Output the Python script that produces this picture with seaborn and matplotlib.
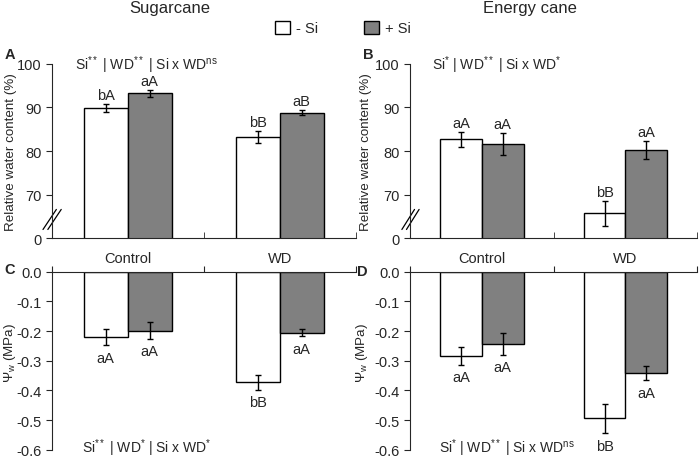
import numpy as np
import pandas as pd
import seaborn as sns
import matplotlib.pyplot as plt
from matplotlib.patches import Patch

# ---------------- data ----------------
groups = ["Control", "WD"]
treatments = ["- Si", "+ Si"]

# each row: one group (Control, WD); columns: - Si, + Si
rwc_sugar = [[89.8, 93.2], [83.2, 88.8]]
rwc_sugar_err = [[0.9, 0.85], [1.35, 0.6]]
rwc_sugar_lbl = [["bA", "aA"], ["bB", "aB"]]

rwc_energy = [[82.7, 81.6], [65.7, 80.2]]
rwc_energy_err = [[1.7, 2.6], [2.8, 2.0]]
rwc_energy_lbl = [["aA", "aA"], ["bB", "aA"]]

psi_sugar = [[-0.221, -0.198], [-0.372, -0.205]]
psi_sugar_err = [[0.027, 0.028], [0.025, 0.013]]
psi_sugar_lbl = [["aA", "aA"], ["bB", "aA"]]

psi_energy = [[-0.283, -0.242], [-0.494, -0.342]]
psi_energy_err = [[0.03, 0.037], [0.05, 0.023]]
psi_energy_lbl = [["aA", "aA"], ["bB", "aA"]]

rwc_ticks = [60, 70, 80, 90, 100]
rwc_tick_labels = ["0", "70", "80", "90", "100"]
psi_ticks = [-0.6, -0.5, -0.4, -0.3, -0.2, -0.1, 0.0]
psi_tick_labels = ["-0.6", "-0.5", "-0.4", "-0.3", "-0.2", "-0.1", "0.0"]

stats_text = {
    "A": r"Si$^{**}$ | WD$^{**}$ | Si x WD$^{\mathrm{ns}}$",
    "B": r"Si$^{*}$ | WD$^{**}$ | Si x WD$^{*}$",
    "C": r"Si$^{**}$ | WD$^{*}$ | Si x WD$^{*}$",
    "D": r"Si$^{*}$ | WD$^{**}$ | Si x WD$^{\mathrm{ns}}$",
}

palette = {"- Si": "white", "+ Si": "#808080"}

sns.set_style("ticks")
plt.rcParams["font.family"] = ["Liberation Sans", "DejaVu Sans"]
plt.rcParams["mathtext.fontset"] = "custom"
plt.rcParams["mathtext.rm"] = "Liberation Sans"
plt.rcParams["mathtext.it"] = "Liberation Sans"
plt.rcParams["axes.unicode_minus"] = False

FS = 10.5


def to_frame(values):
    rows = []
    for gi, g in enumerate(groups):
        for ti, t in enumerate(treatments):
            rows.append({"group": g, "treat": t, "value": values[gi][ti]})
    return pd.DataFrame(rows)


def draw_bars(ax, values, errs, labels, above):
    df = to_frame(values)
    sns.barplot(data=df, x="group", y="value", hue="treat", order=groups,
                hue_order=treatments, palette=palette, edgecolor="black",
                linewidth=1, width=0.58, errorbar=None, legend=False, ax=ax)
    bar_conts = list(ax.containers)
    for ti, cont in enumerate(bar_conts):
        for gi, bar in enumerate(cont):
            xc = bar.get_x() + bar.get_width() / 2
            v, e = values[gi][ti], errs[gi][ti]
            ax.errorbar(xc, v, yerr=e, color="black", lw=1, capsize=2.5, capthick=1)
            if above:
                ax.annotate(labels[gi][ti], (xc, v + e), xytext=(0, 1.5),
                            textcoords="offset points", ha="center", va="bottom", fontsize=FS)
            else:
                ax.annotate(labels[gi][ti], (xc, v - e), xytext=(0, -4),
                            textcoords="offset points", ha="center", va="top", fontsize=FS)
    ax.set_xlim(-0.5, 1.5)
    ax.set_xlabel("")


def style_top(ax, stats, label_x):
    ax.set_ylim(60, 100)
    ax.set_yticks(rwc_ticks)
    ax.set_yticklabels(rwc_tick_labels)
    ax.set_ylabel("Relative water content (%)", fontsize=9.6)
    ax.yaxis.set_label_coords(label_x, 0.5)
    sns.despine(ax=ax)
    ax.set_xticks([0, 1])
    ax.set_xticklabels(groups, fontsize=FS)
    ax.tick_params(axis="x", length=0, pad=9)
    ax.set_xticks([-0.5, 0.5, 1.5], minor=True)
    ax.tick_params(axis="x", which="minor", direction="in", length=4)
    ax.tick_params(axis="y", labelsize=FS, length=4)
    # axis break marks
    tr = ax.get_yaxis_transform()
    for dx in (-0.007, 0.009):
        ax.plot([-0.022 + dx, 0.022 + dx], [62.0, 66.6], color="black", lw=0.9,
                transform=tr, clip_on=False)
    ax.text(0.075, 1.0, stats, transform=ax.transAxes, fontsize=10, va="center")


def style_bottom(ax, stats, label_x):
    ax.set_ylim(-0.6, 0)
    ax.set_yticks(psi_ticks)
    ax.set_yticklabels(psi_tick_labels)
    ax.set_ylabel(r"$\Psi_{\mathrm{w}}$ (MPa)", fontsize=9.6)
    ax.yaxis.set_label_coords(label_x, 0.55)
    for s in ("right", "bottom"):
        ax.spines[s].set_visible(False)
    ax.xaxis.tick_top()
    ax.set_xticks([-0.5, 0.5, 1.5])
    ax.set_xticklabels([])
    ax.tick_params(axis="x", direction="out", length=4)
    ax.tick_params(axis="y", labelsize=FS, length=4)
    ax.text(0.1, 0.015, stats, transform=ax.transAxes, fontsize=10, va="center")


fig = plt.figure(figsize=(7, 4.6), dpi=100)
axA = fig.add_axes([0.074, 0.480, 0.434, 0.379])
axB = fig.add_axes([0.586, 0.480, 0.410, 0.379])
axC = fig.add_axes([0.074, 0.020, 0.434, 0.387])
axD = fig.add_axes([0.586, 0.020, 0.410, 0.387])

draw_bars(axA, rwc_sugar, rwc_sugar_err, rwc_sugar_lbl, True)
draw_bars(axB, rwc_energy, rwc_energy_err, rwc_energy_lbl, True)
draw_bars(axC, psi_sugar, psi_sugar_err, psi_sugar_lbl, False)
draw_bars(axD, psi_energy, psi_energy_err, psi_energy_lbl, False)

style_top(axA, stats_text["A"], -0.115)
style_top(axB, stats_text["B"], -0.132)
style_bottom(axC, stats_text["C"], -0.112)
style_bottom(axD, stats_text["D"], -0.14)

# panel letters
for lab, (x, y) in {"A": (0.006, 0.880), "B": (0.518, 0.880),
                    "C": (0.006, 0.414), "D": (0.510, 0.408)}.items():
    fig.text(x, y, lab, fontsize=10.5, fontweight="bold", va="center")

fig.text(0.243, 0.982, "Sugarcane", fontsize=12, ha="center", va="center")
fig.text(0.757, 0.982, "Energy cane", fontsize=12, ha="center", va="center")

handles = [Patch(facecolor=palette[t], edgecolor="black", label=t) for t in treatments]
fig.legend(handles=handles, loc="center", bbox_to_anchor=(0.49, 0.937), ncol=2,
           frameon=False, fontsize=10.5, handlelength=1.0, handleheight=1.0,
           handletextpad=0.4, columnspacing=3.2)

fig.savefig("out.png", dpi=100)
